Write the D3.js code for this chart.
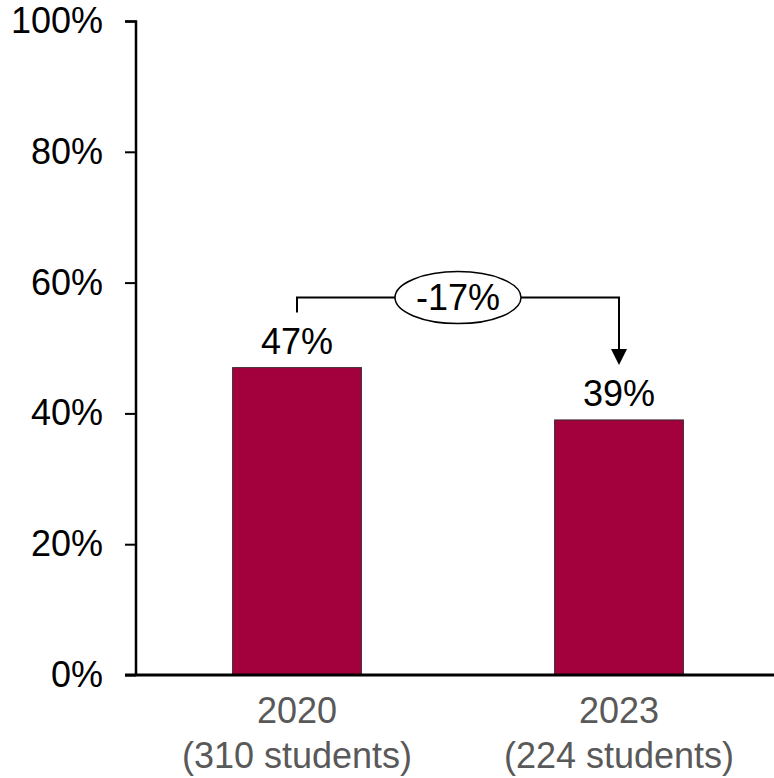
<!DOCTYPE html>
<html>
<head>
<meta charset="utf-8">
<script src="https://cdn.jsdelivr.net/npm/d3@7"></script>
<style>
  body { margin: 0; background: #fff; }
  text { font-family: "Liberation Sans", Arial, sans-serif; }
</style>
</head>
<body>
<div id="chart"></div>
<script>
// data
const years = ["2020", "2023"];
const students = ["(310 students)", "(224 students)"];
const shares = [0.47, 0.39];
const yTicks = [0, 0.2, 0.4, 0.6, 0.8, 1.0];
const changeLabel = "-17%";

// chart setup
const svgWidth = 774, svgHeight = 778;
const margin = { top: 21, right: -6, bottom: 103, left: 136 };
const width = svgWidth - margin.left - margin.right;
const height = svgHeight - margin.top - margin.bottom;
const fontSize = 36;

const svg = d3.select("#chart").append("svg")
  .attr("width", svgWidth)
  .attr("height", svgHeight);

const g = svg.append("g")
  .attr("transform", `translate(${margin.left}, ${margin.top})`);

// scales
const x = d3.scaleBand().domain(years).range([0, width]).paddingInner(0.6).paddingOuter(0.3);
const y = d3.scaleLinear().domain([0, 1]).range([height, 0]);

// y axis
const yAxis = g.append("g")
  .call(d3.axisLeft(y).tickValues(yTicks).tickFormat(d3.format(".0%")).tickSize(11).tickPadding(22));
yAxis.select(".domain").attr("stroke", "#000").attr("stroke-width", 2.5).attr("d", `M-11,0.5H0V${height}`);
yAxis.selectAll(".tick line").attr("stroke", "#000").attr("stroke-width", 2);
yAxis.selectAll(".tick text").attr("font-size", fontSize).attr("fill", "#000")
  .attr("font-family", "Liberation Sans, Arial, sans-serif");

// bars
g.selectAll("rect.bar")
  .data(shares)
  .join("rect")
  .attr("class", "bar")
  .attr("x", (d, i) => x(years[i]))
  .attr("y", d => y(d))
  .attr("width", x.bandwidth())
  .attr("height", d => height - y(d))
  .attr("fill", "#A3003E")
  .attr("stroke", "#3a2a30")
  .attr("stroke-width", 1);

// x axis line
g.append("line")
  .attr("x1", -11).attr("x2", width)
  .attr("y1", height).attr("y2", height)
  .attr("stroke", "#000").attr("stroke-width", 3);

// category labels
const cx = yr => x(yr) + x.bandwidth() / 2;
g.selectAll("text.year")
  .data(years)
  .join("text")
  .attr("class", "year")
  .attr("x", d => cx(d))
  .attr("y", height + 48)
  .attr("text-anchor", "middle")
  .attr("font-size", fontSize)
  .attr("fill", "#595959")
  .text(d => d);

g.selectAll("text.students")
  .data(students)
  .join("text")
  .attr("class", "students")
  .attr("x", (d, i) => cx(years[i]))
  .attr("y", height + 93)
  .attr("text-anchor", "middle")
  .attr("font-size", fontSize)
  .attr("fill", "#595959")
  .text(d => d);

// value labels
g.selectAll("text.value")
  .data(shares)
  .join("text")
  .attr("class", "value")
  .attr("x", (d, i) => cx(years[i]))
  .attr("y", d => y(d) - 14)
  .attr("text-anchor", "middle")
  .attr("font-size", fontSize)
  .attr("fill", "#000")
  .text(d => d3.format(".0%")(d));

// change annotation
const x0 = cx(years[0]), x1 = cx(years[1]);
const yStart = y(shares[0]) - 55;
const yLevel = y(shares[0]) - 70;
const yEnd = y(shares[1]) - 55;
const arrowH = 16, arrowW = 8;

g.append("path")
  .attr("d", `M${x0},${yStart}V${yLevel}H${x1}V${yEnd - arrowH}`)
  .attr("fill", "none")
  .attr("stroke", "#000")
  .attr("stroke-width", 2);

g.append("path")
  .attr("d", `M${x1 - arrowW},${yEnd - arrowH}L${x1 + arrowW},${yEnd - arrowH}L${x1},${yEnd}Z`)
  .attr("fill", "#000");

const ex = (x0 + x1) / 2;
g.append("ellipse")
  .attr("cx", ex).attr("cy", yLevel)
  .attr("rx", 63).attr("ry", 26)
  .attr("fill", "#fff")
  .attr("stroke", "#000")
  .attr("stroke-width", 1.5);

g.append("text")
  .attr("x", ex).attr("y", yLevel + 12)
  .attr("text-anchor", "middle")
  .attr("font-size", fontSize)
  .attr("fill", "#000")
  .text(changeLabel);
</script>
</body>
</html>
